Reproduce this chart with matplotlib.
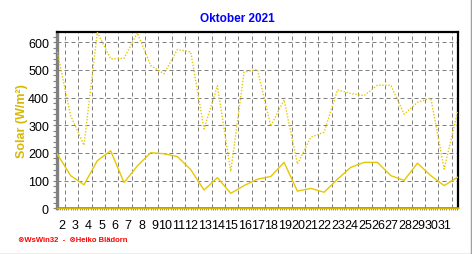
import matplotlib
matplotlib.use("Agg")
import matplotlib.pyplot as plt
import matplotlib.transforms as mtransforms
from matplotlib.ticker import MultipleLocator
from matplotlib.lines import Line2D

plt.rcParams['font.family'] = ['Liberation Sans', 'DejaVu Sans']

# ---- data ----
days = list(range(1, 32))
solar_max = [564, 335, 228, 636, 540, 542, 634, 516, 486, 574, 565, 287, 443, 133, 492,
             502, 297, 392, 160, 257, 275, 428, 415, 407, 445, 445, 340, 383, 398, 142, 347]
solar_mean = [196, 118, 85, 172, 208, 93, 153, 201, 197, 187, 140, 66, 111, 54, 82,
              105, 115, 166, 62, 72, 58, 105, 148, 166, 166, 118, 101, 163, 118, 82, 112]
tick_labels = [str(d) for d in range(2, 32)]
title = "Oktober 2021"
ylabel = "Solar (W/m²)"
footer = "⊗WsWin32  -  ⊗Heiko Blädorn"

LINE = '#E6C800'
LABEL = '#D9B800'
GRID = '#808080'

fig = plt.figure(figsize=(4.72, 2.55), dpi=100)
ax = fig.add_axes([57.3 / 472, 1 - 209.3 / 255, (457.5 - 57.3) / 472, (209.3 - 33.3) / 255])

ax.plot(days, solar_max, color=LINE, lw=1.0, linestyle=(0, (1, 1.2)), zorder=3)
ax.plot(days, solar_mean, color=LINE, lw=1.0, zorder=3)
ax.plot([days[0], days[-1]], [0, 0], color='#D4B400', lw=1.0, zorder=4, clip_on=False)

ax.set_xlim(1, 31)
ax.set_ylim(0, 636)

tick_pos = [d - 0.43 for d in range(2, 32)]
ax.set_xticks(tick_pos)
ax.set_xticklabels(tick_labels, fontsize=9)
offset = mtransforms.ScaledTranslation(2.5 / 100, 0, fig.dpi_scale_trans)
for lab in ax.get_xticklabels():
    lab.set_ha('right')
    lab.set_transform(lab.get_transform() + offset)
ax.xaxis.set_minor_locator(MultipleLocator(1 / 6))
ax.tick_params(axis='x', which='major', length=0, pad=7.5)
ax.tick_params(axis='x', which='minor', length=1.5, width=0.6, color=GRID, direction='out')

ax.yaxis.set_major_locator(MultipleLocator(100))
ax.yaxis.set_minor_locator(MultipleLocator(20))
ax.tick_params(axis='y', which='both', length=3, width=0.8, color=GRID, labelsize=9, pad=3)

ax.grid(True, which='major', color=GRID, linestyle=(0, (4, 3)), linewidth=0.72)
ax.set_axisbelow(True)

for s in ['top', 'right']:
    ax.spines[s].set_color('black')
    ax.spines[s].set_linewidth(1.6)
ax.spines['left'].set_color(GRID)
ax.spines['left'].set_linewidth(2.4)
ax.spines['bottom'].set_color(GRID)
ax.spines['bottom'].set_linewidth(1.2)

fig.text(237 / 472, 1 - 19 / 255, title, color='#0000FF', fontsize=8.5, fontweight='bold',
         ha='center', va='center')
fig.text(22 / 472, 1 - 121 / 255, ylabel, color=LABEL, fontsize=9, fontweight='bold',
         rotation=90, ha='center', va='center')
fig.text(18 / 472, 1 - 241 / 255, footer, color='#FF0000', fontsize=5.5, fontweight='bold',
         ha='left', va='center')

# figure border at right and bottom
fig.add_artist(Line2D([0, 1], [0.5 / 255, 0.5 / 255], transform=fig.transFigure, color='#A0A0A0', lw=1))
fig.add_artist(Line2D([1 - 1.5 / 472, 1 - 1.5 / 472], [0, 1], transform=fig.transFigure, color='#A0A0A0', lw=1))

fig.savefig('out.png', dpi=100)
